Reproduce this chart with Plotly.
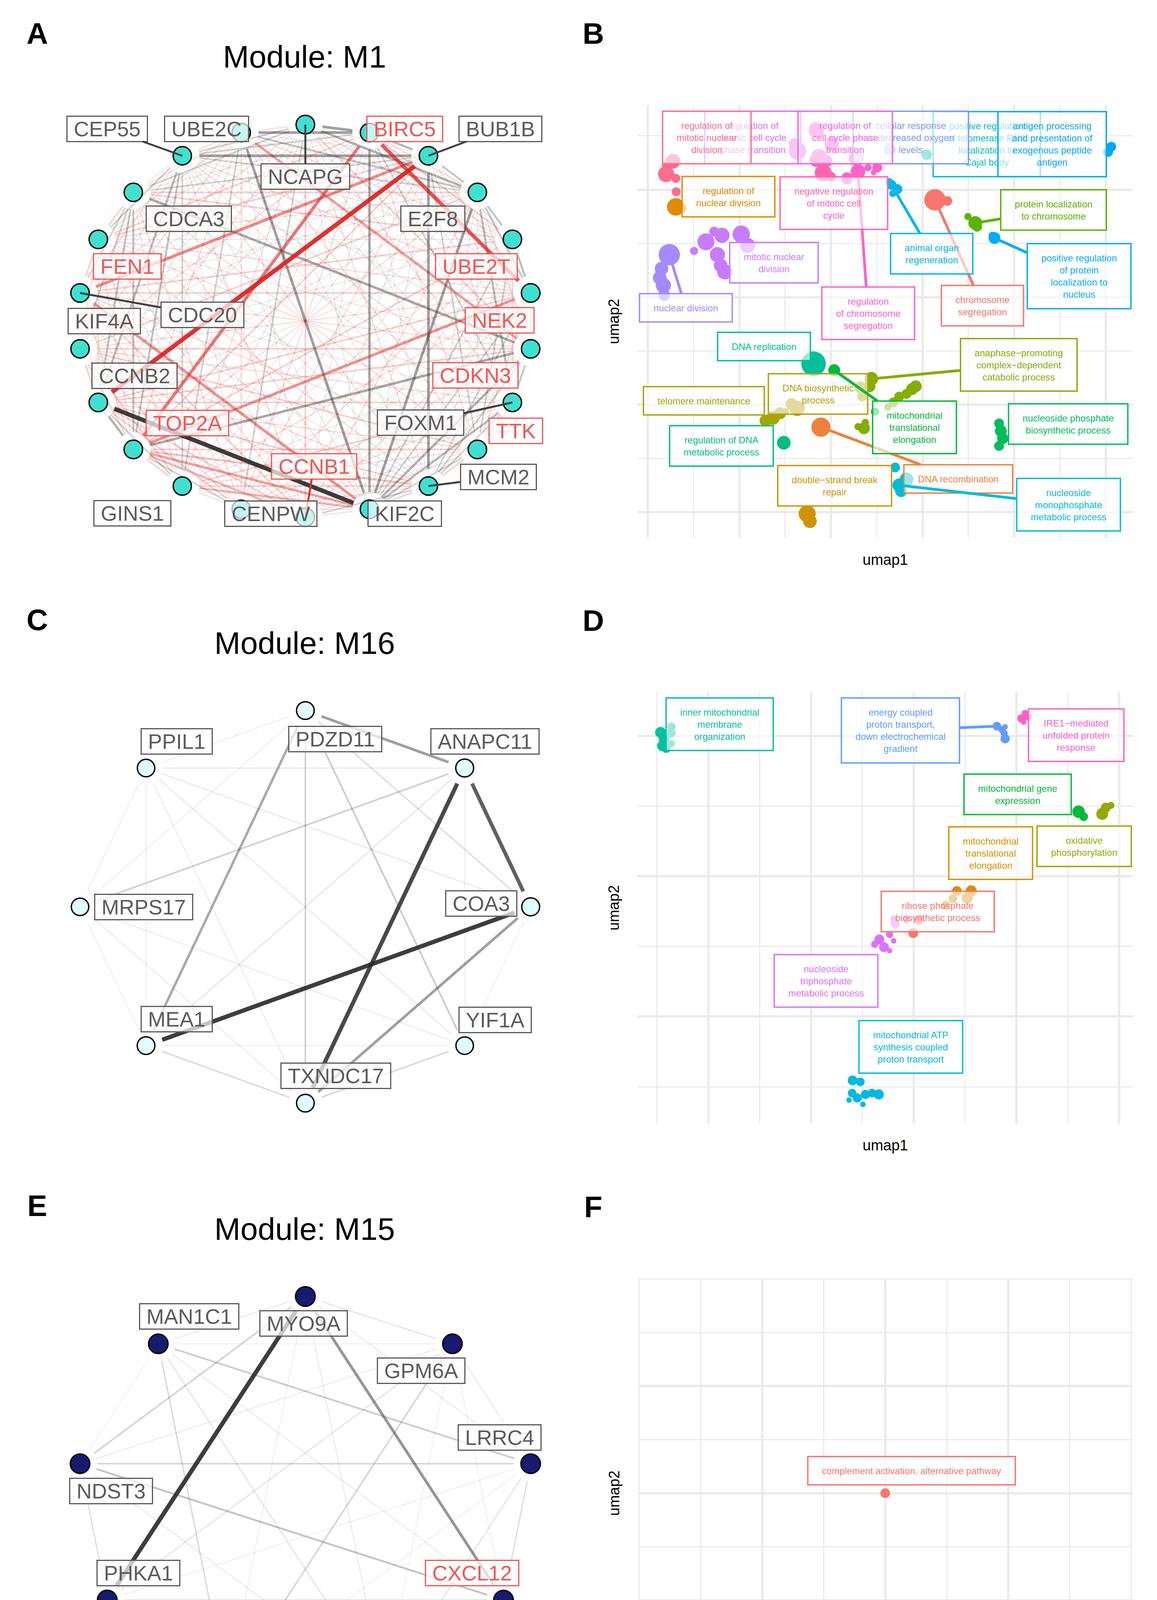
import math
import plotly.graph_objects as go

W, H = 2963, 4849
FONT = "Liberation Sans, Arial, Helvetica, sans-serif"
NB = "\u00a0"

# ============================ DATA ============================
# ---- Panel A : module M1 network (circular layout order, clockwise from top)
M1_GENES = ["NCAPG", "BIRC5", "BUB1B", "E2F8", "UBE2T", "NEK2", "CDKN3", "FOXM1",
            "TTK", "MCM2", "KIF2C", "CCNB1", "CENPW", "GINS1", "TOP2A", "CCNB2",
            "KIF4A", "CDC20", "FEN1", "CDCA3", "CEP55", "UBE2C"]
M1_CONNECTIVITY = [0.86, 0.85, 0.85, 0.84, 0.85, 0.86, 0.85, 0.84, 0.85, 0.84, 0.86,
                   0.85, 0.84, 0.83, 0.86, 0.85, 0.84, 0.85, 0.85, 0.84, 0.84, 0.85]
M1_MARKED = ["BIRC5", "UBE2T", "NEK2", "CDKN3", "TTK", "CCNB1", "TOP2A", "FEN1"]
M1_STRONG_EDGES = [
    ("CCNB2", "BUB1B", 1.00, "red"), ("CCNB2", "KIF2C", 1.00, "grey"),
    ("BIRC5", "NEK2", 0.85, "red"), ("TOP2A", "BIRC5", 0.70, "red"),
    ("CDC20", "BUB1B", 0.62, "red"), ("TOP2A", "NEK2", 0.58, "red"),
    ("CDC20", "KIF2C", 0.58, "red"), ("UBE2C", "CDKN3", 0.52, "red"),
    ("TOP2A", "KIF2C", 0.50, "red"), ("GINS1", "KIF2C", 0.42, "red"),
    ("TOP2A", "CCNB1", 0.40, "red"), ("TOP2A", "MCM2", 0.36, "red"),
    ("UBE2C", "KIF2C", 0.55, "grey"), ("CEP55", "BUB1B", 0.55, "grey"),
    ("BIRC5", "KIF2C", 0.50, "grey"), ("BUB1B", "MCM2", 0.55, "grey"),
    ("E2F8", "KIF2C", 0.55, "grey"), ("TOP2A", "CDKN3", 0.50, "grey"),
    ("CDCA3", "CDKN3", 0.50, "grey"), ("KIF2C", "CDKN3", 0.45, "grey"),
    ("UBE2C", "BIRC5", 0.55, "grey"), ("NCAPG", "E2F8", 0.45, "grey"),
    ("NCAPG", "BIRC5", 0.55, "grey"), ("CCNB2", "TOP2A", 0.45, "grey"),
    ("CEP55", "CCNB2", 0.40, "grey"), ("E2F8", "FOXM1", 0.40, "grey"),
    ("UBE2T", "NEK2", 0.40, "grey"), ("NEK2", "CDKN3", 0.40, "grey"),
    ("BIRC5", "BUB1B", 0.42, "grey"), ("UBE2C", "E2F8", 0.35, "grey"),
    ("CDCA3", "TOP2A", 0.35, "grey"), ("CEP55", "TOP2A", 0.35, "grey"),
    ("KIF2C", "FOXM1", 0.40, "grey"), ("E2F8", "UBE2T", 0.35, "grey"),
    ("CDKN3", "FOXM1", 0.35, "grey"), ("BUB1B", "E2F8", 0.35, "grey"),
    ("CDCA3", "CCNB2", 0.35, "grey"), ("E2F8", "NEK2", 0.35, "grey"),
]
# weaker edges, given as index pairs into M1_GENES
M1_MID_RED = ("0-6 1-4 1-18 2-18 3-19 4-19 4-14 5-17 5-15 6-16 7-15 7-13 8-14 8-16 9-13 "
              "9-15 11-15 11-17 12-15 13-16 14-16 15-16 16-17 17-18 18-19 7-8 8-9 9-10 "
              "13-14 0-11 4-17 2-14 6-15 3-16")
M1_MID_GREY = ("0-19 0-20 1-20 2-19 3-20 4-8 5-9 6-9 7-9 8-10 9-11 12-14 13-15 16-19 17-19 "
               "18-20 2-8 4-10 0-12 21-13 20-13 19-14 5-10 1-7")
M1_FAINT_RED = ("0-4 0-7 0-9 0-13 0-15 0-17 1-3 1-8 1-12 1-16 1-20 2-5 2-7 2-12 2-20 3-6 "
                "3-11 3-14 3-18 4-7 4-12 4-21 5-8 5-11 5-13 5-16 5-18 5-20 6-12 6-17 6-19 "
                "7-10 7-12 7-16 7-18 7-20 8-11 8-13 8-15 8-17 8-19 8-21 9-12 9-14 9-16 "
                "9-18 9-20 10-16 10-19 11-14 11-16 11-18 11-20 12-17 12-19 12-21 13-18 "
                "13-20 14-17 14-19 14-21 15-18 15-20 16-21 17-20 18-21 0-1 1-2 3-4 5-6 "
                "10-11 11-12 12-13 16-18 19-21 20-21 0-21 14-18 12-16 10-15")
M1_FAINT_GREY = ("0-2 0-3 0-5 0-8 0-10 0-14 0-16 0-18 1-6 1-9 1-11 1-13 1-15 1-17 1-19 "
                 "1-21 2-4 2-6 2-10 2-11 2-13 2-16 2-21 3-5 3-8 3-9 3-12 3-13 3-15 3-17 "
                 "3-21 4-6 4-9 4-11 4-13 4-15 4-16 4-18 4-20 5-7 5-12 5-19 5-21 6-8 6-11 "
                 "6-13 6-18 6-20 6-21 7-11 7-17 7-19 7-21 8-12 8-18 8-20 9-17 9-19 9-21 "
                 "10-12 10-14 10-18 10-20 11-13 11-19 11-21 12-18 12-20 13-17 13-19 13-21 "
                 "14-20 15-17 15-19 15-21 16-20 17-21 18-20 19-20 2-3 6-7 14-15 17-18 19-15")
M1_MID_W, M1_FAINT_RED_W, M1_FAINT_GREY_W = 0.27, 0.18, 0.10

# ---- Panel C : module M16 network
M16_GENES = ["PDZD11", "ANAPC11", "COA3", "YIF1A", "TXNDC17", "MEA1", "MRPS17", "PPIL1"]
M16_CONNECTIVITY = [0.78, 0.80, 0.80, 0.76, 0.78, 0.78, 0.76, 0.76]
M16_MARKED = []
M16_EDGES = [
    ("COA3", "MEA1", 1.00), ("ANAPC11", "TXNDC17", 0.95), ("ANAPC11", "COA3", 0.85),
    ("PDZD11", "ANAPC11", 0.55), ("COA3", "TXNDC17", 0.55), ("PDZD11", "MEA1", 0.50),
    ("PDZD11", "YIF1A", 0.30), ("PDZD11", "TXNDC17", 0.28), ("ANAPC11", "MRPS17", 0.28),
    ("MEA1", "TXNDC17", 0.22), ("TXNDC17", "YIF1A", 0.24), ("PDZD11", "COA3", 0.20),
    ("ANAPC11", "MEA1", 0.14), ("PPIL1", "COA3", 0.12), ("PPIL1", "YIF1A", 0.12),
    ("PPIL1", "TXNDC17", 0.10), ("PPIL1", "ANAPC11", 0.10), ("PPIL1", "PDZD11", 0.08),
    ("PPIL1", "MRPS17", 0.08), ("PPIL1", "MEA1", 0.08), ("MRPS17", "YIF1A", 0.10),
    ("MRPS17", "TXNDC17", 0.10), ("MRPS17", "MEA1", 0.06), ("MRPS17", "PDZD11", 0.08),
    ("ANAPC11", "YIF1A", 0.08), ("COA3", "YIF1A", 0.06), ("MEA1", "YIF1A", 0.08),
]

# ---- Panel E : module M15 network
M15_GENES = ["MYO9A", "GPM6A", "LRRC4", "CXCL12", "HOXB6", "F8", "PHKA1", "NDST3", "MAN1C1"]
M15_CONNECTIVITY = [0.97, 0.95, 0.95, 0.96, 0.95, 0.95, 0.97, 0.95, 0.95]
M15_MARKED = ["CXCL12", "F8"]
M15_EDGES = [
    ("MYO9A", "PHKA1", 1.00), ("MYO9A", "CXCL12", 0.60), ("NDST3", "CXCL12", 0.35),
    ("MAN1C1", "LRRC4", 0.30), ("NDST3", "LRRC4", 0.25), ("NDST3", "MYO9A", 0.26),
    ("PHKA1", "CXCL12", 0.20), ("F8", "GPM6A", 0.25), ("F8", "MAN1C1", 0.22),
    ("NDST3", "PHKA1", 0.18), ("LRRC4", "CXCL12", 0.20), ("LRRC4", "HOXB6", 0.15),
    ("MYO9A", "GPM6A", 0.15), ("MAN1C1", "MYO9A", 0.12), ("MAN1C1", "HOXB6", 0.15),
    ("MAN1C1", "CXCL12", 0.10), ("GPM6A", "NDST3", 0.10), ("GPM6A", "PHKA1", 0.15),
    ("GPM6A", "LRRC4", 0.12), ("MYO9A", "LRRC4", 0.10), ("MYO9A", "HOXB6", 0.10),
    ("MYO9A", "F8", 0.08), ("NDST3", "HOXB6", 0.10), ("PHKA1", "HOXB6", 0.08),
    ("F8", "HOXB6", 0.08), ("F8", "CXCL12", 0.06), ("CXCL12", "HOXB6", 0.12),
    ("LRRC4", "F8", 0.06), ("MAN1C1", "GPM6A", 0.06), ("PHKA1", "F8", 0.05),
    ("NDST3", "MAN1C1", 0.05), ("GPM6A", "CXCL12", 0.06), ("GPM6A", "HOXB6", 0.05),
    ("LRRC4", "PHKA1", 0.06),
]

# ---- Panel B : GO terms of M1 (umap1, umap2, -log10 adjusted p)
B_TERMS = [
    "chromosome segregation", "DNA recombination", "regulation of nuclear division",
    "double-strand break repair", "DNA biosynthetic process", "telomere maintenance",
    "anaphase-promoting complex-dependent catabolic process",
    "protein localization to chromosome", "mitochondrial translational elongation",
    "nucleoside phosphate biosynthetic process", "regulation of DNA metabolic process",
    "DNA replication", "positive regulation of telomerase RNA localization to Cajal body",
    "nucleoside monophosphate metabolic process", "animal organ regeneration",
    "positive regulation of protein localization to nucleus",
    "antigen processing and presentation of exogenous peptide antigen",
    "cellular response to decreased oxygen levels", "nuclear division",
    "mitotic nuclear division", "regulation of mitotic cell cycle phase transition",
    "regulation of cell cycle phase transition", "regulation of chromosome segregation",
    "negative regulation of mitotic cell cycle", "regulation of mitotic nuclear division",
]
B_COLOURS = ["#F8766D", "#EC823C", "#E08B00", "#D09400", "#BB9D00", "#A3A500", "#85AD00",
             "#5BB300", "#00BA38", "#00BD5C", "#00BF7D", "#00C09A", "#00C0B5", "#00BCD6",
             "#00B6EB", "#00ADFA", "#00A5FF", "#7E96FF", "#A58AFF", "#C77CFF", "#E36EF6",
             "#F564E3", "#FF61CC", "#FF64B0", "#FF6C91"]
B_POINTS = [
    [(6.27, 5.81, 30), (6.54, 5.79, 6)],
    [(3.78, 1.58, 24)],
    [(0.61, 5.68, 20), (0.72, 5.66, 8)],
    [(3.48, -0.03, 19), (3.54, -0.17, 12)],
    [(3.26, 1.93, 15), (3.14, 2.01, 9), (4.64, 2.32, 9), (4.68, 2.15, 6)],
    [(2.89, 1.84, 9), (2.73, 1.75, 12), (2.57, 1.70, 9), (3.01, 1.87, 3)],
    [(4.88, 2.48, 12), (4.84, 2.34, 9), (5.77, 2.29, 9), (5.65, 2.20, 6), (5.49, 2.15, 6),
     (5.36, 2.04, 6), (5.24, 1.95, 3), (5.85, 2.34, 9), (4.72, 1.56, 9), (4.59, 1.59, 3),
     (4.75, 1.67, 3)],
    [(7.15, 5.38, 12), (6.99, 5.50, 3), (7.19, 5.31, 6)],
    [(4.07, 2.64, 9), (4.96, 1.87, 4)],
    [(7.67, 1.65, 6), (7.71, 1.51, 9), (7.75, 1.37, 8), (7.67, 1.23, 6)],
    [(2.97, 1.29, 12)],
    [(3.62, 2.76, 40)],
    [(6.09, 6.65, 7)],
    [(5.49, 0.50, 12), (5.40, 0.83, 6), (5.53, 0.39, 9), (5.65, 0.61, 12)],
    [(5.32, 6.09, 6), (5.45, 6.01, 6), (5.27, 6.15, 3), (5.35, 5.93, 3)],
    [(7.57, 5.10, 9), (7.52, 5.15, 3)],
    [(10.05, 6.70, 6), (10.12, 6.80, 6)],
    [(5.28, 6.75, 9)],
    [(0.47, 4.79, 30), (0.30, 4.53, 12), (0.26, 4.36, 12), (0.34, 4.22, 15), (0.36, 4.04, 9)],
    [(1.45, 5.22, 6), (1.62, 5.15, 15), (2.04, 5.17, 20), (2.18, 4.96, 15), (1.27, 5.03, 19),
     (1.01, 4.86, 4), (1.52, 4.79, 15), (1.59, 4.59, 12), (1.68, 4.47, 15)],
    [(3.27, 6.72, 20), (3.21, 6.85, 9)],
    [(3.68, 7.11, 15), (4.02, 6.85, 14), (3.74, 6.61, 16), (3.90, 6.53, 9)],
    [(4.59, 6.34, 14), (4.35, 6.21, 9), (4.81, 6.41, 3), (5.01, 6.41, 6), (4.93, 6.32, 1.6),
     (4.56, 6.58, 15)],
    [(3.83, 6.31, 19), (3.68, 6.55, 12), (4.00, 6.24, 6)],
    [(0.40, 6.29, 17), (0.55, 6.53, 14), (0.61, 6.21, 5), (0.62, 5.96, 5), (0.43, 6.43, 8)],
]

# ---- Panel D : GO terms of M16
D_TERMS = [
    "ribose phosphate biosynthetic process", "mitochondrial translational elongation",
    "oxidative phosphorylation", "mitochondrial gene expression",
    "inner mitochondrial membrane organization",
    "mitochondrial ATP synthesis coupled proton transport",
    "energy coupled proton transport, down electrochemical gradient",
    "nucleoside triphosphate metabolic process", "IRE1-mediated unfolded protein response",
]
D_COLOURS = ["#F8766D", "#D39200", "#93AA00", "#00BA38", "#00C19F", "#00B9E3",
             "#619CFF", "#DB72FB", "#FF61C3"]
D_POINTS = [
    [(4.99, 2.19, 6), (5.10, 2.38, 6), (4.86, 2.38, 3)],
    [(5.84, 2.79, 6), (6.12, 2.79, 8), (6.04, 2.69, 8), (5.62, 2.59, 4.5), (5.76, 2.68, 4.5)],
    [(8.67, 3.89, 9), (8.74, 3.98, 6), (8.84, 4.01, 3)],
    [(8.21, 3.92, 10), (8.31, 3.85, 4.5)],
    [(0.07, 5.05, 7.6), (0.14, 4.96, 7.6), (0.28, 5.13, 4.5), (0.28, 5.04, 4.5),
     (0.11, 4.86, 7.6), (0.28, 4.89, 3), (0.18, 4.82, 4.5)],
    [(3.81, 0.09, 6), (3.96, 0.07, 4.5), (3.80, -0.09, 4.5), (3.90, -0.16, 5.2),
     (4.06, -0.11, 5.2), (4.19, -0.09, 4.5), (4.32, -0.11, 6.5), (4.01, -0.25, 1.6),
     (3.74, -0.19, 1.6)],
    [(6.62, 5.14, 4.5), (6.72, 5.09, 3), (6.78, 4.96, 5.2), (6.76, 5.04, 3), (6.78, 5.13, 1.6)],
    [(4.53, 2.17, 3), (4.33, 2.10, 6), (4.24, 2.03, 3), (4.42, 1.99, 6), (4.61, 2.08, 1.6),
     (4.53, 1.94, 1.5), (4.64, 2.32, 4.5), (4.61, 2.39, 3), (4.86, 2.40, 2.5)],
    [(7.17, 5.32, 3), (7.10, 5.25, 4.5), (7.23, 5.27, 3), (7.14, 5.20, 1.6)],
]

# ---- Panel F : GO term of M15
F_TERMS = ["complement activation, alternative pathway"]
F_COLOURS = ["#F8766D"]
F_POINTS = [[(0.0, 0.0, 5.9)]]

# ---- legends
CONN_BREAKS = [0.00, 0.25, 0.50, 0.75, 1.00]
CONN_LABELS = ["0.00", "0.25", "0.50", "0.75", "1.00"]
P_BREAKS = [1.3, 10.0, 20.0, 40.0]
P_LABELS = ["1.3", "10.0", "20.0", "40.0"]

# ============================ LAYOUT / STYLE ============================
# label placement (ggrepel-like), offsets in px from node (dx right, dy down)
M1_LABEL_OFFSET = {
    "NCAPG": (0, 133), "BIRC5": (90, -9), "BUB1B": (184, -69), "E2F8": (-114, 68),
    "UBE2T": (-92, 69), "NEK2": (-80, 70), "CDKN3": (-142, 68), "FOXM1": (-235, 52),
    "TTK": (98, -48), "MCM2": (179, -23), "KIF2C": (90, 11), "CCNB1": (22, -130),
    "CENPW": (76, 11), "GINS1": (-128, 70), "TOP2A": (139, -68), "CCNB2": (93, -68),
    "KIF4A": (62, -71), "CDC20": (313, 56), "FEN1": (74, 69), "CDCA3": (142, 68),
    "CEP55": (-192, -69), "UBE2C": (-89, -9)}
M1_SEGMENTS = ["NCAPG", "BUB1B", "FOXM1", "MCM2", "CCNB1", "CDC20", "CEP55"]
M16_LABEL_OFFSET = {
    "PDZD11": (76, 73), "ANAPC11": (52, -68), "COA3": (-127, -9), "YIF1A": (78, -66),
    "TXNDC17": (78, -70), "MEA1": (78, -68), "MRPS17": (163, 0), "PPIL1": (78, -68)}
M15_LABEL_OFFSET = {
    "MYO9A": (-5, 69), "GPM6A": (-80, 69), "LRRC4": (-80, -67), "CXCL12": (-80, -69),
    "HOXB6": (79, -68), "F8": (-78, -68), "PHKA1": (80, -69), "NDST3": (79, 70),
    "MAN1C1": (79, -70)}

B_WRAP = {
    "chromosome segregation": ["chromosome", "segregation"],
    "DNA recombination": ["DNA recombination"],
    "regulation of nuclear division": ["regulation of", "nuclear division"],
    "double-strand break repair": ["double\u2212strand break", "repair"],
    "DNA biosynthetic process": ["DNA biosynthetic", "process"],
    "telomere maintenance": ["telomere maintenance"],
    "anaphase-promoting complex-dependent catabolic process":
        ["anaphase\u2212promoting", "complex\u2212dependent", "catabolic process"],
    "protein localization to chromosome": ["protein localization", "to chromosome"],
    "mitochondrial translational elongation": ["mitochondrial", "translational", "elongation"],
    "nucleoside phosphate biosynthetic process": ["nucleoside phosphate", "biosynthetic process"],
    "regulation of DNA metabolic process": ["regulation of DNA", "metabolic process"],
    "DNA replication": ["DNA replication"],
    "positive regulation of telomerase RNA localization to Cajal body":
        ["positive regulation", "of telomerase RNA", "localization to", "Cajal body"],
    "nucleoside monophosphate metabolic process": ["nucleoside", "monophosphate", "metabolic process"],
    "animal organ regeneration": ["animal organ", "regeneration"],
    "positive regulation of protein localization to nucleus":
        ["positive regulation", "of protein", "localization to", "nucleus"],
    "antigen processing and presentation of exogenous peptide antigen":
        ["antigen processing", "and presentation of", "exogenous peptide", "antigen"],
    "cellular response to decreased oxygen levels": ["cellular response", "to decreased oxygen", "levels"],
    "nuclear division": ["nuclear division"],
    "mitotic nuclear division": ["mitotic nuclear", "division"],
    "regulation of mitotic cell cycle phase transition": ["regulation of", "mitotic cell cycle", "phase transition"],
    "regulation of cell cycle phase transition": ["regulation of", "cell cycle phase", "transition"],
    "regulation of chromosome segregation": ["regulation", "of chromosome", "segregation"],
    "negative regulation of mitotic cell cycle": ["negative regulation", "of mitotic cell", "cycle"],
    "regulation of mitotic nuclear division": ["regulation of", "mitotic nuclear", "division"],
}
B_LABEL_AT = {
    "chromosome segregation": (7.31, 3.84), "DNA recombination": (6.78, 0.62),
    "regulation of nuclear division": (1.76, 5.87), "double-strand break repair": (4.08, 0.49),
    "DNA biosynthetic process": (3.72, 2.20), "telomere maintenance": (1.22, 2.07),
    "anaphase-promoting complex-dependent catabolic process": (8.10, 2.74),
    "protein localization to chromosome": (8.86, 5.62),
    "mitochondrial translational elongation": (5.82, 1.58),
    "nucleoside phosphate biosynthetic process": (9.18, 1.64),
    "regulation of DNA metabolic process": (1.61, 1.23), "DNA replication": (2.54, 3.08),
    "positive regulation of telomerase RNA localization to Cajal body": (7.40, 6.85),
    "nucleoside monophosphate metabolic process": (9.19, 0.14),
    "animal organ regeneration": (6.20, 4.81),
    "positive regulation of protein localization to nucleus": (9.42, 4.39),
    "antigen processing and presentation of exogenous peptide antigen": (8.83, 6.85),
    "cellular response to decreased oxygen levels": (5.74, 6.97),
    "nuclear division": (0.83, 3.80), "mitotic nuclear division": (2.75, 4.64),
    "regulation of mitotic cell cycle phase transition": (2.29, 6.97),
    "regulation of cell cycle phase transition": (4.31, 6.97),
    "regulation of chromosome segregation": (4.81, 3.70),
    "negative regulation of mitotic cell cycle": (4.06, 5.75),
    "regulation of mitotic nuclear division": (1.29, 6.97),
}
B_SEGMENTED = ["chromosome segregation", "DNA recombination",
               "anaphase-promoting complex-dependent catabolic process",
               "protein localization to chromosome", "mitochondrial translational elongation",
               "nucleoside monophosphate metabolic process", "animal organ regeneration",
               "positive regulation of protein localization to nucleus", "nuclear division",
               "regulation of chromosome segregation"]

D_WRAP = {
    "ribose phosphate biosynthetic process": ["ribose phosphate", "biosynthetic process"],
    "mitochondrial translational elongation": ["mitochondrial", "translational", "elongation"],
    "oxidative phosphorylation": ["oxidative", "phosphorylation"],
    "mitochondrial gene expression": ["mitochondrial gene", "expression"],
    "inner mitochondrial membrane organization": ["inner mitochondrial", "membrane", "organization"],
    "mitochondrial ATP synthesis coupled proton transport":
        ["mitochondrial ATP", "synthesis coupled", "proton transport"],
    "energy coupled proton transport, down electrochemical gradient":
        ["energy coupled", "proton transport,", "down electrochemical", "gradient"],
    "nucleoside triphosphate metabolic process": ["nucleoside", "triphosphate", "metabolic process"],
    "IRE1-mediated unfolded protein response": ["IRE1\u2212mediated", "unfolded protein", "response"],
}
D_LABEL_AT = {
    "ribose phosphate biosynthetic process": (5.47, 2.50),
    "mitochondrial translational elongation": (6.50, 3.33),
    "oxidative phosphorylation": (8.32, 3.43),
    "mitochondrial gene expression": (7.02, 4.17),
    "inner mitochondrial membrane organization": (1.22, 5.17),
    "mitochondrial ATP synthesis coupled proton transport": (4.94, 0.57),
    "energy coupled proton transport, down electrochemical gradient": (4.74, 5.08),
    "nucleoside triphosphate metabolic process": (3.29, 1.51),
    "IRE1-mediated unfolded protein response": (8.16, 5.01),
}
D_SEGMENTED = ["energy coupled proton transport, down electrochemical gradient"]
F_WRAP = {"complement activation, alternative pathway": ["complement activation, alternative pathway"]}
F_LABEL_AT = {"complement activation, alternative pathway": (0.43, 0.42)}
F_SEGMENTED = []

GRID = "#EBEBEB"
GREY_TXT = "#5A5A5A"
RED_TXT = "#F25555"

# ============================ HELPERS ============================
fig = go.Figure()
annotations = []
axes = {}


def axname(k, a):
    return f"{a}axis" if k == 1 else f"{a}axis{k}"


def aref(k, a):
    return a if k == 1 else f"{a}{k}"


def fx(px):
    return px / W


def fy(py):
    return 1 - py / H


def conn_size(c):
    return math.sqrt(13 ** 2 + (53 ** 2 - 13 ** 2) * c)


def pval_size(v):
    v = min(max(v, 1.3), 40.0)
    return math.sqrt(13 ** 2 + (63 ** 2 - 13 ** 2) * (v - 1.3) / (40.0 - 1.3))


def edge_style(w, colour):
    alpha = 0.06 + 0.84 * w ** 1.3
    width = 1.5 + 9.5 * w
    rgb = (220, 28, 28) if colour == "red" else (40, 40, 40)
    return "rgba(%d,%d,%d,%.3f)" % (rgb[0], rgb[1], rgb[2], alpha), width


def pairs(s, genes, w, colour):
    out = []
    for tok in s.split():
        a, b = tok.split("-")
        out.append((genes[int(a)], genes[int(b)], w, colour))
    return out


def add_network(k, row_top, genes, conn, edge_list, fill, offsets, segs, marked, title, letter):
    n = len(genes)
    ang = [math.radians(90 - 360.0 * i / n) for i in range(n)]
    nx = [math.cos(a) for a in ang]
    ny = [math.sin(a) for a in ang]
    xr = [min(nx), max(nx)]
    yr = [min(ny), max(ny)]
    L, R, T, B = 205, 1359, row_top + 319, row_top + 1324
    sx = (R - L) / (xr[1] - xr[0])
    sy = (B - T) / (yr[1] - yr[0])
    axes[axname(k, "x")] = dict(domain=[fx(L), fx(R)], range=xr, visible=False, fixedrange=True)
    axes[axname(k, "y")] = dict(domain=[fy(B), fy(T)], range=yr, visible=False, fixedrange=True)
    idx = {g: i for i, g in enumerate(genes)}
    merged = {}
    for a, b, w, col in edge_list:
        key = tuple(sorted((idx[a], idx[b])))
        merged[key] = (w, col)
    cap = 44.0
    groups = {}
    for (i, j), (w, col) in sorted(merged.items(), key=lambda kv: kv[1][0]):
        dxp = (nx[j] - nx[i]) * sx
        dyp = (ny[j] - ny[i]) * sy
        t = cap / math.hypot(dxp, dyp)
        g = groups.setdefault((col, w), ([], []))
        g[0].extend([nx[i] + t * (nx[j] - nx[i]), nx[j] - t * (nx[j] - nx[i]), None])
        g[1].extend([ny[i] + t * (ny[j] - ny[i]), ny[j] - t * (ny[j] - ny[i]), None])
    for (col, w), (xs, ys) in groups.items():
        c, wd = edge_style(w, col)
        fig.add_trace(go.Scatter(x=xs, y=ys, mode="lines", line=dict(color=c, width=wd),
                                 xaxis=aref(k, "x"), yaxis=aref(k, "y"), hoverinfo="skip"))
    fig.add_trace(go.Scatter(
        x=nx, y=ny, mode="markers", cliponaxis=False, hoverinfo="skip",
        marker=dict(size=[conn_size(c) - 2 for c in conn], color=fill, opacity=1,
                    line=dict(color="black", width=3.5)),
        xaxis=aref(k, "x"), yaxis=aref(k, "y")))
    for i, g in enumerate(genes):
        dx, dy = offsets[g]
        tc = RED_TXT if g in marked else GREY_TXT
        ann = dict(x=nx[i], y=ny[i], xref=aref(k, "x"), yref=aref(k, "y"),
                   text=NB + g + NB, font=dict(family=FONT, size=54, color=tc),
                   bgcolor="rgba(255,255,255,0.7)", bordercolor=tc, borderwidth=3, borderpad=1)
        if g in segs:
            ann.update(showarrow=True, ax=dx, ay=dy, arrowhead=0, arrowwidth=5, standoff=0,
                       arrowcolor="#E82828" if g in marked else "#404040")
        else:
            ann.update(showarrow=False, xshift=dx, yshift=-dy)
        annotations.append(ann)
    annotations.append(dict(x=fx(780), y=fy(row_top + 146), xref="paper", yref="paper",
                            text=title, showarrow=False, xanchor="center", yanchor="middle",
                            font=dict(family=FONT, size=80, color="black")))
    annotations.append(dict(x=fx(95), y=fy(row_top + 86), xref="paper", yref="paper",
                            text="<b>%s</b>" % letter, showarrow=False, xanchor="center",
                            yanchor="middle", font=dict(family=FONT, size=76, color="black")))


def add_umap(k, box, xr, yr, xt, yt, terms, colours, points, wrap, label_at, segs, letter):
    L, T, R, B = box
    for a, rng, dom, tk in (("x", xr, [fx(L), fx(R)], xt), ("y", yr, [fy(B), fy(T)], yt)):
        axes[axname(k, a)] = dict(
            domain=dom, range=rng, showticklabels=False, ticks="", zeroline=False,
            showline=False, showgrid=True, gridcolor=GRID, gridwidth=6, fixedrange=True,
            tickmode="array", tickvals=tk[0],
            minor=dict(tickmode="array", tickvals=tk[1], showgrid=True, gridcolor=GRID,
                       gridwidth=3.3, ticks=""))
    for term, col, pts in zip(terms, colours, points):
        fig.add_trace(go.Scatter(
            x=[p[0] for p in pts], y=[p[1] for p in pts], mode="markers", cliponaxis=False,
            marker=dict(size=[pval_size(p[2]) for p in pts], color=col, opacity=1,
                        line=dict(width=0)),
            xaxis=aref(k, "x"), yaxis=aref(k, "y"), hoverinfo="skip"))
    for term, col, pts in zip(terms, colours, points):
        lx, ly = label_at[term]
        text = "<br>".join(NB + NB + s + NB + NB for s in wrap[term])
        ann = dict(xref=aref(k, "x"), yref=aref(k, "y"), text=text, align="center",
                   font=dict(family=FONT, size=24, color=col), bgcolor="rgba(255,255,255,0.62)",
                   bordercolor=col, borderwidth=3.5, borderpad=21)
        if term in segs:
            ann.update(x=pts[0][0], y=pts[0][1], ax=lx, ay=ly, axref=aref(k, "x"),
                       ayref=aref(k, "y"), showarrow=True, arrowhead=0, arrowwidth=7,
                       arrowcolor=col, standoff=0)
        else:
            ann.update(x=lx, y=ly, showarrow=False)
        annotations.append(ann)
    annotations.append(dict(x=fx((L + R) / 2), y=fy(B + 56), xref="paper", yref="paper",
                            text="umap1", showarrow=False, xanchor="center", yanchor="middle",
                            font=dict(family=FONT, size=38, color="black")))
    annotations.append(dict(x=fx(1572), y=fy((T + B) / 2), xref="paper", yref="paper",
                            text="umap2", showarrow=False, textangle=-90, xanchor="center",
                            yanchor="middle", font=dict(family=FONT, size=38, color="black")))
    annotations.append(dict(x=fx(1519), y=fy(T - 183), xref="paper", yref="paper",
                            text="<b>%s</b>" % letter, showarrow=False, xanchor="center",
                            yanchor="middle", font=dict(family=FONT, size=76, color="black")))


# ============================ PANELS ============================
m1_edges = (pairs(M1_FAINT_GREY, M1_GENES, M1_FAINT_GREY_W, "grey")
            + pairs(M1_FAINT_RED, M1_GENES, M1_FAINT_RED_W, "red")
            + pairs(M1_MID_GREY, M1_GENES, M1_MID_W, "grey")
            + pairs(M1_MID_RED, M1_GENES, M1_MID_W, "red")
            + M1_STRONG_EDGES)
add_network(1, 0, M1_GENES, M1_CONNECTIVITY, m1_edges, "#40E0D0", M1_LABEL_OFFSET,
            M1_SEGMENTS, M1_MARKED, "Module: M1", "A")
add_network(3, 1500, M16_GENES, M16_CONNECTIVITY, [e + ("grey",) for e in M16_EDGES],
            "#E0FFFF", M16_LABEL_OFFSET, [], M16_MARKED, "Module: M16", "C")
add_network(5, 3000, M15_GENES, M15_CONNECTIVITY, [e + ("grey",) for e in M15_EDGES],
            "#191970", M15_LABEL_OFFSET, [], M15_MARKED, "Module: M15", "E")

add_umap(2, (1632, 269, 2901, 1377), [-0.23, 10.59], [-0.48, 7.574],
         ([0, 2, 4, 6, 8, 10], [1, 3, 5, 7, 9]), ([0, 2, 4, 6], [1, 3, 5, 7]),
         B_TERMS, B_COLOURS, B_POINTS, B_WRAP, B_LABEL_AT, B_SEGMENTED, "B")
add_umap(4, (1632, 1772, 2901, 2876), [-0.384, 9.266], [-0.523, 5.624],
         ([1, 3, 5, 7, 9], [0, 2, 4, 6, 8]), ([1, 3, 5], [0, 2, 4]),
         D_TERMS, D_COLOURS, D_POINTS, D_WRAP, D_LABEL_AT, D_SEGMENTED, "D")
add_umap(6, (1634, 3272, 2900, 4373), [-4.015, 4.015], [-4.015, 4.015],
         ([-2, 0, 2], [-4, -3, -1, 1, 3, 4]), ([-2, 0, 2], [-4, -3, -1, 1, 3, 4]),
         F_TERMS, F_COLOURS, F_POINTS, F_WRAP, F_LABEL_AT, F_SEGMENTED, "F")

# ============================ LEGENDS ============================
axes["xaxis7"] = dict(domain=[0, 1], range=[0, W], visible=False, fixedrange=True)
axes["yaxis7"] = dict(domain=[0, fy(4480)], range=[H, 4480], visible=False, fixedrange=True)


def label_width(s, size):
    return sum((0.278 if ch == "." else 0.556) for ch in s) * size


def legend_row(breaks, labels, sizer, x_start, y, title, title_x):
    xs = []
    x = x_start
    for lab in labels:
        xs.append(x)
        x += 104 + label_width(lab, 47) + 103
    fig.add_trace(go.Scatter(x=xs, y=[y] * len(xs), mode="markers", cliponaxis=False,
                             marker=dict(size=[sizer(b) for b in breaks], color="black",
                                         opacity=1, line=dict(width=0)),
                             xaxis="x7", yaxis="y7", hoverinfo="skip"))
    for xk, lab in zip(xs, labels):
        annotations.append(dict(x=fx(xk + 104), y=fy(y), xref="paper", yref="paper", text=lab,
                                showarrow=False, xanchor="left", yanchor="middle",
                                font=dict(family=FONT, size=47, color="black")))
    annotations.append(dict(x=fx(title_x), y=fy(4613), xref="paper", yref="paper", text=title,
                            showarrow=False, xanchor="center", yanchor="middle",
                            font=dict(family=FONT, size=63, color="black")))


legend_row(CONN_BREAKS, CONN_LABELS, conn_size, 219, 4738, "connectivity", 878)
legend_row(P_BREAKS, P_LABELS, pval_size, 1844, 4758,
           "\u2212log<sub>10</sub>(adjusted p\u2212value)", 2340)

fig.update_layout(width=W, height=H, margin=dict(l=0, r=0, t=0, b=0),
                  paper_bgcolor="white", plot_bgcolor="white", showlegend=False,
                  annotations=annotations, **axes)

fig.write_html("out.html", config={"displayModeBar": False},
               post_script="document.body.style.margin='0';")
